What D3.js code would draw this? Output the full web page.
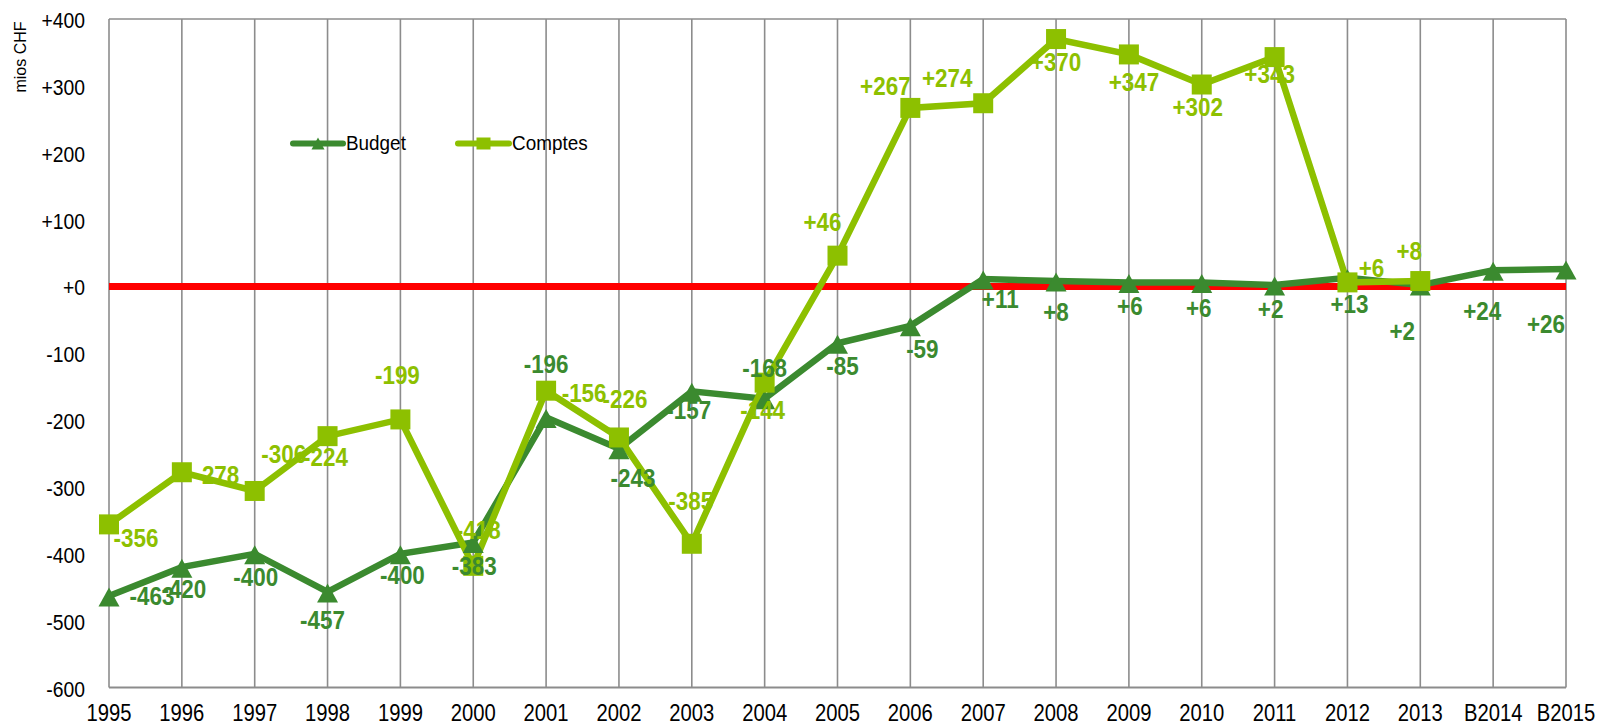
<!DOCTYPE html>
<html>
<head>
<meta charset="utf-8">
<script src="https://cdn.jsdelivr.net/npm/d3@7"></script>
<style>
  html, body { margin: 0; padding: 0; background: #fff; }
  svg { display: block; }
  text { font-family: "Liberation Sans", Arial, sans-serif; }
</style>
</head>
<body>
<svg id="chart" width="1598" height="727"></svg>
<script>
// ---------- data ----------
const categories = ["1995","1996","1997","1998","1999","2000","2001","2002","2003","2004","2005","2006","2007","2008","2009","2010","2011","2012","2013","B2014","B2015"];
const budget  = [-463,-420,-400,-457,-400,-383,-196,-243,-157,-168,-85,-59,11,8,6,6,2,13,2,24,26];
const comptes = [-356,-278,-306,-224,-199,-418,-156,-226,-385,-144,46,267,274,370,347,302,343,6,8,null,null];
const yTicks  = [-600,-500,-400,-300,-200,-100,0,100,200,300,400];
const seriesNames = ["Budget","Comptes"];
const yAxisTitle = "mios CHF";

// label placement (offset of label centre from its point, px)
const budgetLabelOffset = [[43,0],[2,22],[1,23],[-5,28],[2,21],[1,23],[0,-54],[14,29],[-3,19],[0,-31],[5,23],[12,23],[17,20],[0,31],[1,23],[-3,25],[-4,24],[2,26],[-18,46],[-11,41],[-20,55]];
const comptesLabelOffset = [[27,13],[35,3],[29,-37],[-2,21],[-3,-45],[5,-36],[38,2],[6,-39],[-1,-43],[-2,27],[-15,-34],[-25,-22],[-36,-25],[0,23],[5,27],[-4,22],[-5,17],[24,-15],[-11,-30],[0,0],[0,0]];

// ---------- layout ----------
const pLeft = 109, pRight = 1566, pTop = 19, pBottom = 687.5;
const budgetColor = "#3b8a2f", comptesColor = "#8dc000", gridColor = "#8c8c8c";

const svg = d3.select("#chart");
const x = d3.scalePoint().domain(categories).range([pLeft, pRight]).padding(0);
const y = d3.scaleLinear().domain([-600, 400]).range([pBottom, pTop]);
const fmt = v => (v >= 0 ? "+" : "-") + Math.abs(v);

function label(g, txt, cx, cy, size, weight, color, sx, anchor) {
  g.append("text")
    .attr("transform", `translate(${cx},${cy + 0.358 * size}) scale(${sx},1)`)
    .attr("text-anchor", anchor || "middle")
    .attr("font-size", size)
    .attr("font-weight", weight)
    .attr("fill", color)
    .text(txt);
}

// gridlines (vertical at each category)
const grid = svg.append("g");
grid.selectAll("line.v").data(categories).join("line")
  .attr("x1", d => x(d)).attr("x2", d => x(d))
  .attr("y1", pTop).attr("y2", pBottom)
  .attr("stroke", gridColor).attr("stroke-width", 1.6);
grid.append("line").attr("x1", pLeft).attr("x2", pRight).attr("y1", pTop).attr("y2", pTop)
  .attr("stroke", gridColor).attr("stroke-width", 1.6);
grid.append("line").attr("x1", pLeft).attr("x2", pRight).attr("y1", pBottom).attr("y2", pBottom)
  .attr("stroke", gridColor).attr("stroke-width", 2);

// y tick labels
const ylab = svg.append("g");
yTicks.forEach(t => label(ylab, fmt(t), 85, y(t) + 1, 22.5, "normal", "#000", 0.86, "end"));
// x tick labels
const xlab = svg.append("g");
categories.forEach(c => label(xlab, c, x(c), 713, 23, "normal", "#000", 0.88, "middle"));

// axis title
svg.append("text")
  .attr("transform", `translate(26,57) rotate(-90)`)
  .attr("text-anchor", "middle")
  .attr("font-size", 16)
  .attr("fill", "#000")
  .text(yAxisTitle);

// zero line
svg.append("line").attr("x1", pLeft).attr("x2", pRight).attr("y1", y(0)).attr("y2", y(0))
  .attr("stroke", "#ff0000").attr("stroke-width", 7);

// lines
const bData = categories.map((c, i) => ({ c, v: budget[i], i }));
const cData = categories.map((c, i) => ({ c, v: comptes[i], i }));
const line = d3.line().defined(d => d.v !== null).x(d => x(d.c)).y(d => y(d.v));

svg.append("path").datum(bData).attr("d", line)
  .attr("fill", "none").attr("stroke", budgetColor).attr("stroke-width", 6.5).attr("stroke-linejoin", "miter");
svg.append("path").datum(cData).attr("d", line)
  .attr("fill", "none").attr("stroke", comptesColor).attr("stroke-width", 6.5).attr("stroke-linejoin", "miter");

// markers
const tri = (cx, cy, w, h) => `M${cx},${cy - h / 2}L${cx + w / 2},${cy + h / 2}L${cx - w / 2},${cy + h / 2}Z`;
svg.append("g").selectAll("path").data(bData).join("path")
  .attr("d", d => tri(x(d.c), y(d.v) + 1, 21, 19))
  .attr("fill", budgetColor);
svg.append("g").selectAll("rect").data(cData.filter(d => d.v !== null)).join("rect")
  .attr("x", d => x(d.c) - 10).attr("y", d => y(d.v) - 10)
  .attr("width", 20).attr("height", 20)
  .attr("fill", comptesColor);

// data labels
const lab = svg.append("g");
cData.filter(d => d.v !== null).forEach(d => {
  const o = comptesLabelOffset[d.i];
  label(lab, fmt(d.v), x(d.c) + o[0], y(d.v) + o[1], 25.5, "bold", comptesColor, 0.88, "middle");
});
bData.forEach(d => {
  const o = budgetLabelOffset[d.i];
  label(lab, fmt(d.v), x(d.c) + o[0], y(d.v) + o[1], 25.5, "bold", budgetColor, 0.88, "middle");
});

// legend
const leg = svg.append("g");
const legItems = [
  { name: seriesNames[0], color: budgetColor, x1: 293, x2: 343, tx: 346, type: "tri" },
  { name: seriesNames[1], color: comptesColor, x1: 458, x2: 509, tx: 512, type: "sq" }
];
const ly = 143.5;
legItems.forEach(it => {
  leg.append("line").attr("x1", it.x1).attr("x2", it.x2).attr("y1", ly).attr("y2", ly)
    .attr("stroke", it.color).attr("stroke-width", 6).attr("stroke-linecap", "round");
  const mx = (it.x1 + it.x2) / 2;
  if (it.type === "tri") {
    leg.append("path").attr("d", tri(mx, ly, 13, 12)).attr("fill", it.color);
  } else {
    leg.append("rect").attr("x", mx - 7).attr("y", ly - 6).attr("width", 14).attr("height", 12).attr("fill", it.color);
  }
  label(leg, it.name, it.tx, ly, 19.5, "normal", "#000", 0.97, "start");
});
</script>
</body>
</html>
